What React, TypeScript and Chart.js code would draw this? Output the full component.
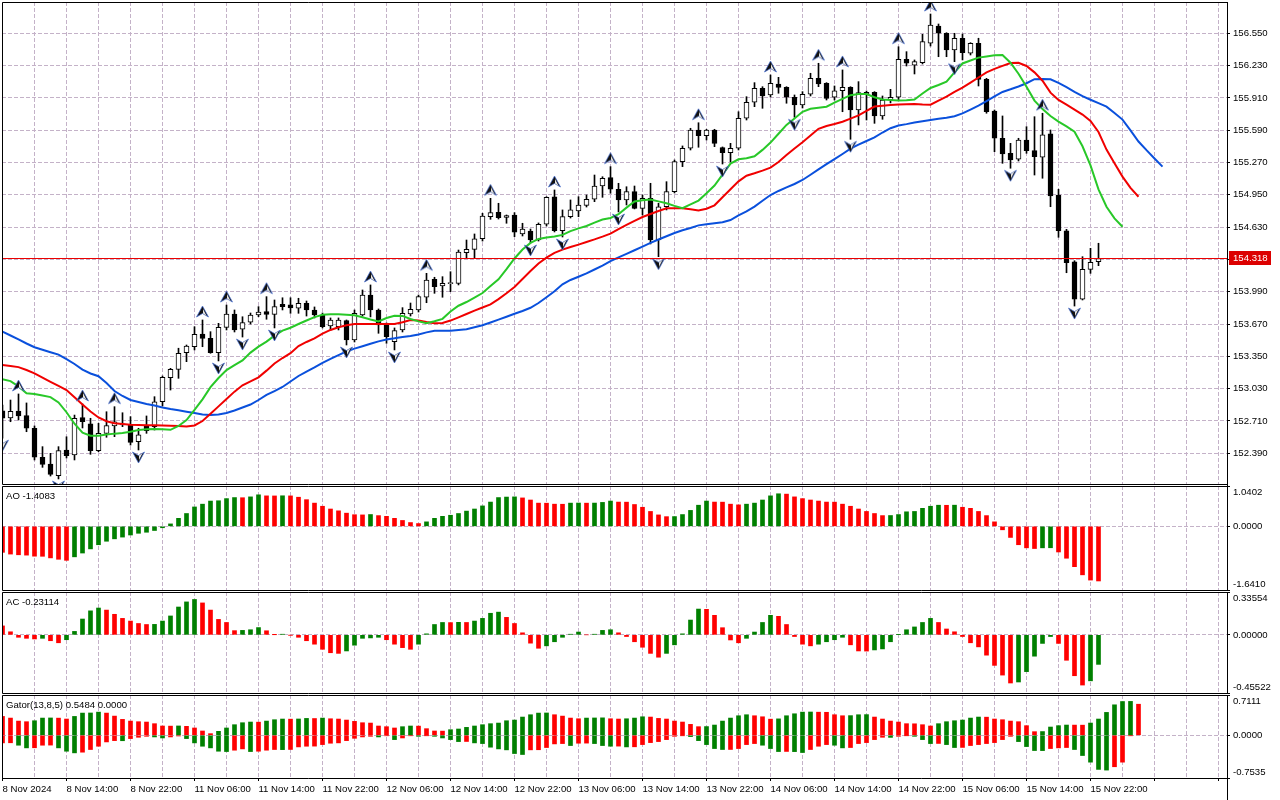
import React, { useEffect, useRef } from "react";
import { Chart, registerables } from "chart.js";

Chart.register(...registerables);

// ---------------- data ----------------
const xLabels = [
  "8 Nov 2024", "8 Nov 14:00", "8 Nov 22:00", "11 Nov 06:00", "11 Nov 14:00", "11 Nov 22:00",
  "12 Nov 06:00", "12 Nov 14:00", "12 Nov 22:00", "13 Nov 06:00", "13 Nov 14:00", "13 Nov 22:00",
  "14 Nov 06:00", "14 Nov 14:00", "14 Nov 22:00", "15 Nov 06:00", "15 Nov 14:00", "15 Nov 22:00",
];

const open = [
  152.811, 152.739, 152.808, 152.762, 152.637, 152.350, 152.283, 152.167, 152.422, 152.372,
  152.742, 152.680, 152.415, 152.587, 152.660, 152.670, 152.670, 152.504, 152.663, 152.653,
  152.900, 153.138, 153.221, 153.386, 153.445, 153.571, 153.528, 153.386, 153.637, 153.769,
  153.618, 153.687, 153.759, 153.792, 153.766, 153.865, 153.861, 153.826, 153.875, 153.809,
  153.759, 153.650, 153.643, 153.703, 153.512, 153.759, 153.957, 153.809, 153.660, 153.495,
  153.611, 153.769, 153.809, 153.935, 154.113, 154.047, 154.070, 154.073, 154.377, 154.410,
  154.515, 154.733, 154.777, 154.727, 154.750, 154.562, 154.591, 154.502, 154.658, 154.931,
  154.594, 154.733, 154.790, 154.846, 154.906, 155.037, 155.120, 155.005, 154.899, 154.981,
  154.816, 154.915, 154.502, 154.832, 154.981, 155.278, 155.411, 155.592, 155.536, 155.592,
  155.417, 155.367, 155.411, 155.708, 155.867, 156.005, 155.939, 156.048, 156.015, 155.916,
  155.840, 155.946, 156.104, 156.055, 155.916, 155.981, 156.015, 155.790, 155.946, 155.966,
  155.731, 155.889, 155.916, 156.293, 156.233, 156.259, 156.451, 156.622, 156.550, 156.385,
  156.501, 156.352, 156.451, 156.094, 155.780, 155.510, 155.361, 155.302, 155.493, 155.387,
  155.322, 155.553, 154.948, 154.594, 154.287, 153.915, 154.212, 154.287,
];
const high = [
  152.868, 152.917, 152.977, 152.888, 152.660, 152.455, 152.389, 152.455, 152.553, 152.768,
  152.878, 152.736, 152.686, 152.801, 152.851, 152.791, 152.752, 152.637, 152.759, 152.950,
  153.155, 153.231, 153.430, 153.462, 153.643, 153.710, 153.594, 153.677, 153.858, 153.809,
  153.742, 153.779, 153.842, 153.941, 153.908, 153.930, 153.930, 153.925, 153.898, 153.839,
  153.779, 153.730, 153.730, 153.710, 153.809, 154.007, 154.057, 153.819, 153.680, 153.631,
  153.832, 153.878, 153.957, 154.172, 154.133, 154.139, 154.188, 154.403, 154.502, 154.562,
  154.767, 154.915, 154.866, 154.750, 154.773, 154.668, 154.611, 154.671, 154.931, 154.998,
  154.800, 154.899, 154.931, 154.948, 155.146, 155.129, 155.229, 155.064, 155.030, 155.037,
  154.948, 155.064, 154.866, 155.080, 155.295, 155.434, 155.609, 155.664, 155.599, 155.599,
  155.424, 155.460, 155.773, 155.922, 156.061, 156.021, 156.137, 156.114, 156.021, 155.939,
  155.972, 156.154, 156.253, 156.061, 156.028, 156.187, 156.021, 156.071, 155.978, 155.972,
  155.929, 155.995, 156.417, 156.368, 156.286, 156.540, 156.741, 156.642, 156.556, 156.550,
  156.543, 156.457, 156.501, 156.104, 155.790, 155.731, 155.460, 155.510, 155.625, 155.724,
  155.758, 155.592, 155.005, 154.608, 154.297, 154.337, 154.420, 154.470,
];
const low = [
  152.540, 152.702, 152.719, 152.603, 152.323, 152.250, 152.164, 152.135, 152.343, 152.323,
  152.640, 152.379, 152.405, 152.548, 152.554, 152.653, 152.471, 152.422, 152.587, 152.620,
  152.858, 153.016, 153.132, 153.297, 153.413, 153.445, 153.380, 153.304, 153.611, 153.591,
  153.541, 153.670, 153.743, 153.717, 153.631, 153.809, 153.776, 153.776, 153.749, 153.730,
  153.631, 153.611, 153.611, 153.462, 153.492, 153.749, 153.740, 153.578, 153.479, 153.413,
  153.591, 153.749, 153.789, 153.881, 153.974, 153.935, 153.990, 154.057, 154.321, 154.321,
  154.492, 154.707, 154.710, 154.668, 154.535, 154.542, 154.473, 154.492, 154.641, 154.582,
  154.532, 154.720, 154.733, 154.829, 154.882, 154.925, 154.965, 154.780, 154.849, 154.810,
  154.750, 154.463, 154.337, 154.800, 154.968, 155.229, 155.394, 155.421, 155.493, 155.427,
  155.255, 155.275, 155.394, 155.691, 155.823, 155.807, 155.919, 155.956, 155.857, 155.718,
  155.810, 155.929, 156.021, 155.889, 155.889, 155.773, 155.500, 155.642, 155.691, 155.658,
  155.698, 155.860, 155.889, 156.226, 156.147, 156.246, 156.424, 156.318, 156.318, 156.269,
  156.286, 156.335, 156.028, 155.758, 155.377, 155.262, 155.213, 155.285, 155.361, 155.146,
  155.114, 154.832, 154.529, 154.178, 153.848, 153.908, 154.172, 154.248,
];
const close = [
  152.736, 152.805, 152.759, 152.637, 152.350, 152.280, 152.181, 152.415, 152.365, 152.736,
  152.702, 152.415, 152.587, 152.663, 152.702, 152.680, 152.498, 152.571, 152.613, 152.900,
  153.142, 153.221, 153.380, 153.452, 153.568, 153.528, 153.386, 153.637, 153.769, 153.611,
  153.683, 153.759, 153.789, 153.766, 153.842, 153.842, 153.829, 153.875, 153.809, 153.759,
  153.643, 153.710, 153.710, 153.512, 153.776, 153.957, 153.809, 153.660, 153.544, 153.604,
  153.776, 153.816, 153.941, 154.106, 154.040, 154.073, 154.080, 154.383, 154.410, 154.515,
  154.740, 154.773, 154.723, 154.743, 154.579, 154.611, 154.502, 154.658, 154.925, 154.594,
  154.733, 154.800, 154.849, 154.906, 155.037, 155.114, 155.005, 154.899, 154.981, 154.816,
  154.915, 154.502, 154.832, 154.981, 155.278, 155.411, 155.592, 155.536, 155.592, 155.460,
  155.367, 155.411, 155.708, 155.867, 156.005, 155.929, 156.055, 156.015, 155.916, 155.840,
  155.946, 156.104, 156.048, 155.906, 155.981, 156.015, 155.790, 155.962, 155.966, 155.731,
  155.889, 155.916, 156.293, 156.253, 156.269, 156.467, 156.632, 156.550, 156.385, 156.501,
  156.358, 156.451, 156.094, 155.773, 155.510, 155.354, 155.295, 155.493, 155.387, 155.328,
  155.543, 154.938, 154.594, 154.278, 153.915, 154.212, 154.281, 154.318,
];

// Alligator (already shifted forward: jaw 8, teeth 5, lips 3 bars)
const jaw = [
  153.594, 153.556, 153.517, 153.477, 153.440, 153.415, 153.391, 153.367, 153.323, 153.274,
  153.219, 153.180, 153.153, 153.086, 153.006, 152.957, 152.917, 152.897, 152.878, 152.863,
  152.843, 152.828, 152.815, 152.801, 152.788, 152.774, 152.769, 152.774, 152.788, 152.813,
  152.843, 152.872, 152.917, 152.967, 153.006, 153.046, 153.100, 153.155, 153.199, 153.240,
  153.284, 153.324, 153.361, 153.398, 153.426, 153.450, 153.474, 153.498, 153.517, 153.528,
  153.541, 153.552, 153.566, 153.587, 153.604, 153.604, 153.604, 153.611, 153.618, 153.638,
  153.658, 153.685, 153.713, 153.742, 153.771, 153.799, 153.831, 153.878, 153.935, 153.994,
  154.063, 154.106, 154.138, 154.171, 154.210, 154.249, 154.292, 154.330, 154.365, 154.401,
  154.437, 154.473, 154.507, 154.539, 154.572, 154.599, 154.621, 154.647, 154.659, 154.669,
  154.679, 154.700, 154.746, 154.785, 154.833, 154.891, 154.948, 154.988, 155.023, 155.057,
  155.097, 155.149, 155.202, 155.253, 155.303, 155.354, 155.407, 155.448, 155.483, 155.518,
  155.567, 155.610, 155.636, 155.650, 155.666, 155.679, 155.691, 155.703, 155.713, 155.729,
  155.756, 155.794, 155.834, 155.877, 155.924, 155.969, 155.995, 156.023, 156.055, 156.095,
  156.097, 156.094, 156.058, 156.016, 155.970, 155.927, 155.892, 155.858, 155.823, 155.761,
  155.695, 155.589, 155.478, 155.392, 155.310, 155.229,
];
const teeth = [
  153.264, 153.254, 153.243, 153.214, 153.181, 153.138, 153.097, 153.056, 153.016, 152.944,
  152.872, 152.803, 152.744, 152.707, 152.687, 152.680, 152.672, 152.669, 152.667, 152.666,
  152.664, 152.663, 152.659, 152.655, 152.665, 152.709, 152.782, 152.854, 152.927, 153.000,
  153.063, 153.102, 153.142, 153.208, 153.279, 153.333, 153.381, 153.452, 153.492, 153.528,
  153.575, 153.611, 153.638, 153.657, 153.670, 153.670, 153.670, 153.670, 153.670, 153.670,
  153.687, 153.710, 153.706, 153.690, 153.677, 153.681, 153.704, 153.736, 153.769, 153.802,
  153.834, 153.864, 153.916, 153.974, 154.036, 154.116, 154.195, 154.270, 154.327, 154.374,
  154.407, 154.433, 154.456, 154.482, 154.508, 154.536, 154.566, 154.611, 154.651, 154.691,
  154.730, 154.760, 154.790, 154.816, 154.816, 154.816, 154.806, 154.795, 154.812, 154.846,
  154.925, 155.005, 155.083, 155.139, 155.163, 155.189, 155.219, 155.275, 155.344, 155.409,
  155.471, 155.537, 155.604, 155.632, 155.652, 155.674, 155.705, 155.736, 155.781, 155.824,
  155.833, 155.840, 155.844, 155.847, 155.849, 155.844, 155.843, 155.882, 155.922, 155.969,
  156.012, 156.062, 156.112, 156.163, 156.198, 156.227, 156.256, 156.258, 156.226, 156.163,
  156.080, 155.962, 155.890, 155.843, 155.794, 155.745, 155.681, 155.572, 155.398, 155.263,
  155.130, 155.019, 154.931,
];
const lips = [
  153.122, 153.104, 153.052, 152.984, 152.977, 152.961, 152.946, 152.893, 152.796, 152.682,
  152.593, 152.564, 152.563, 152.575, 152.584, 152.590, 152.603, 152.619, 152.628, 152.629,
  152.628, 152.622, 152.660, 152.719, 152.819, 152.924, 153.044, 153.135, 153.214, 153.262,
  153.310, 153.387, 153.446, 153.495, 153.555, 153.604, 153.633, 153.670, 153.705, 153.738,
  153.761, 153.767, 153.766, 153.762, 153.756, 153.737, 153.715, 153.695, 153.729, 153.751,
  153.750, 153.720, 153.696, 153.677, 153.697, 153.721, 153.794, 153.851, 153.888, 153.932,
  153.977, 154.046, 154.112, 154.213, 154.319, 154.408, 154.473, 154.513, 154.527, 154.536,
  154.553, 154.590, 154.617, 154.641, 154.675, 154.705, 154.720, 154.758, 154.823, 154.884,
  154.896, 154.904, 154.885, 154.866, 154.840, 154.818, 154.855, 154.893, 154.965, 155.042,
  155.149, 155.259, 155.302, 155.313, 155.331, 155.395, 155.467, 155.555, 155.642, 155.706,
  155.772, 155.802, 155.813, 155.823, 155.864, 155.901, 155.937, 155.949, 155.949, 155.917,
  155.894, 155.889, 155.883, 155.886, 155.894, 155.954, 156.008, 156.038, 156.071, 156.163,
  156.251, 156.280, 156.309, 156.321, 156.333, 156.335, 156.258, 156.149, 156.021, 155.883,
  155.799, 155.730, 155.675, 155.628, 155.575, 155.431, 155.241, 155.004, 154.832, 154.717,
  154.634,
];

const fractalUp = [2, 10, 14, 25, 28, 33, 46, 53, 61, 69, 76, 87, 96, 102, 105, 112, 116, 130];
const fractalDown = [0, 7, 17, 27, 30, 34, 43, 49, 66, 70, 77, 82, 90, 99, 106, 119, 126, 134];

const priceTicks = [
  156.55, 156.23, 155.91, 155.59, 155.27, 154.95, 154.63, 154.31,
  153.99, 153.67, 153.35, 153.03, 152.71, 152.39,
];
const priceRange = [152.085, 156.86];

const ao = [
  -0.670, -0.715, -0.733, -0.742, -0.769, -0.772, -0.813, -0.849, -0.876, -0.786,
  -0.688, -0.581, -0.474, -0.384, -0.322, -0.277, -0.223, -0.179, -0.152, -0.107,
  -0.036, 0.063, 0.206, 0.331, 0.500, 0.572, 0.652, 0.660, 0.715, 0.742,
  0.738, 0.760, 0.813, 0.786, 0.784, 0.788, 0.785, 0.751, 0.688, 0.599,
  0.518, 0.447, 0.400, 0.340, 0.300, 0.295, 0.305, 0.277, 0.259, 0.206,
  0.152, 0.098, 0.072, 0.116, 0.206, 0.259, 0.286, 0.331, 0.393, 0.447,
  0.527, 0.626, 0.742, 0.755, 0.760, 0.733, 0.679, 0.599, 0.597, 0.572,
  0.570, 0.599, 0.601, 0.598, 0.600, 0.617, 0.652, 0.626, 0.624, 0.563,
  0.492, 0.384, 0.295, 0.250, 0.252, 0.304, 0.411, 0.545, 0.652, 0.626,
  0.624, 0.572, 0.554, 0.572, 0.599, 0.679, 0.786, 0.840, 0.831, 0.760,
  0.715, 0.679, 0.652, 0.626, 0.624, 0.572, 0.518, 0.447, 0.384, 0.331,
  0.277, 0.279, 0.304, 0.375, 0.384, 0.465, 0.518, 0.545, 0.543, 0.546,
  0.492, 0.465, 0.384, 0.277, 0.116, -0.089, -0.286, -0.474, -0.554, -0.572,
  -0.554, -0.552, -0.661, -0.822, -1.040, -1.250, -1.385, -1.4083,
];
const aoTicks = [1.0402, 0, -1.641];

const ac = [
  0.070, 0.024, -0.019, -0.027, -0.032, -0.027, -0.046, -0.062, -0.038, 0.027,
  0.124, 0.188, 0.210, 0.194, 0.161, 0.129, 0.108, 0.089, 0.081, 0.082,
  0.108, 0.148, 0.218, 0.258, 0.277, 0.250, 0.194, 0.121, 0.097, 0.033,
  0.035, 0.040, 0.057, 0.032, 0.001, 0.005, -0.002, -0.019, -0.046, -0.073,
  -0.113, -0.140, -0.145, -0.126, -0.081, -0.027, -0.024, -0.019, -0.038, -0.073,
  -0.100, -0.113, -0.073, 0.008, 0.081, 0.097, 0.096, 0.098, 0.097, 0.108,
  0.129, 0.169, 0.178, 0.137, 0.089, 0.016, -0.065, -0.105, -0.086, -0.054,
  -0.019, 0.005, 0.022, 0.000, 0.005, 0.035, 0.040, 0.016, -0.013, -0.054,
  -0.097, -0.145, -0.175, -0.145, -0.078, 0.008, 0.116, 0.202, 0.200, 0.153,
  0.056, -0.040, -0.062, -0.027, 0.022, 0.097, 0.153, 0.145, 0.081, -0.013,
  -0.073, -0.086, -0.073, -0.054, -0.038, -0.019, -0.078, -0.126, -0.127, -0.118,
  -0.110, -0.054, 0.002, 0.040, 0.062, 0.097, 0.129, 0.097, 0.046, 0.024,
  -0.013, -0.062, -0.094, -0.159, -0.239, -0.315, -0.377, -0.369, -0.288, -0.167,
  -0.067, -0.013, -0.067, -0.199, -0.320, -0.393, -0.360, -0.23114,
];
const acTicks = [0.33554, 0, -0.45522];

const gatorParams = [13, 8, 5];
const gatorUp = [
  0.333, 0.304, 0.251, 0.240, 0.257, 0.304, 0.306, 0.303, 0.287, 0.333,
  0.392, 0.394, 0.409, 0.392, 0.339, 0.281, 0.251, 0.240, 0.234, 0.205,
  0.164, 0.162, 0.165, 0.158, 0.129, 0.076, 0.029, 0.070, 0.129, 0.187,
  0.222, 0.234, 0.232, 0.251, 0.275, 0.287, 0.285, 0.288, 0.298, 0.296,
  0.304, 0.292, 0.287, 0.269, 0.246, 0.222, 0.216, 0.164, 0.152, 0.129,
  0.152, 0.164, 0.162, 0.117, 0.076, 0.074, 0.099, 0.111, 0.140, 0.164,
  0.187, 0.205, 0.216, 0.257, 0.269, 0.322, 0.363, 0.392, 0.394, 0.363,
  0.339, 0.304, 0.292, 0.304, 0.306, 0.308, 0.292, 0.287, 0.292, 0.304,
  0.327, 0.322, 0.298, 0.287, 0.251, 0.234, 0.193, 0.152, 0.154, 0.181,
  0.251, 0.304, 0.345, 0.363, 0.345, 0.327, 0.285, 0.290, 0.345, 0.380,
  0.409, 0.411, 0.408, 0.406, 0.363, 0.345, 0.347, 0.363, 0.365, 0.322,
  0.287, 0.251, 0.234, 0.205, 0.203, 0.187, 0.164, 0.205, 0.240, 0.257,
  0.269, 0.304, 0.322, 0.320, 0.287, 0.275, 0.251, 0.240, 0.170, 0.064,
  0.066, 0.146, 0.170, 0.181, 0.180, 0.179, 0.216, 0.287, 0.404, 0.538,
  0.596, 0.598, 0.5484,
];
const gatorDown = [
  -0.134, -0.132, -0.175, -0.222, -0.220, -0.175, -0.173, -0.222, -0.281, -0.310,
  -0.298, -0.251, -0.193, -0.117, -0.094, -0.096, -0.058, -0.035, -0.018, -0.029,
  -0.047, -0.029, -0.012, -0.058, -0.134, -0.193, -0.222, -0.281, -0.287, -0.263,
  -0.240, -0.287, -0.281, -0.263, -0.251, -0.253, -0.250, -0.205, -0.193, -0.191,
  -0.164, -0.140, -0.134, -0.094, -0.053, -0.029, -0.018, -0.029, -0.006, -0.076,
  -0.047, -0.006, -0.018, -0.003, -0.018, -0.047, -0.076, -0.111, -0.109, -0.134,
  -0.146, -0.210, -0.240, -0.257, -0.322, -0.339, -0.257, -0.255, -0.216, -0.152,
  -0.146, -0.181, -0.140, -0.138, -0.146, -0.181, -0.193, -0.191, -0.205, -0.203,
  -0.164, -0.129, -0.111, -0.076, -0.018, -0.003, -0.023, -0.094, -0.164, -0.234,
  -0.251, -0.250, -0.234, -0.164, -0.146, -0.175, -0.234, -0.287, -0.285, -0.288,
  -0.304, -0.251, -0.193, -0.164, -0.175, -0.222, -0.216, -0.146, -0.129, -0.076,
  -0.035, -0.037, -0.018, -0.002, -0.018, -0.076, -0.146, -0.144, -0.164, -0.216,
  -0.214, -0.181, -0.164, -0.146, -0.129, -0.076, -0.018, -0.111, -0.199, -0.269,
  -0.270, -0.234, -0.222, -0.216, -0.251, -0.357, -0.474, -0.602, -0.614, -0.555,
  -0.474, -0.005,
];
const gatorTicks = [0.7111, 0, -0.7535];

// ---------------- style ----------------
const FONT = "'Liberation Sans', Arial, sans-serif";
const FS = 9.6;
const GRID = "rgb(196,178,200)";
const GREEN = "#008000";
const RED = "#ff0000";
const BLUE_LINE = "rgb(10,80,220)";
const RED_LINE = "rgb(240,0,0)";
const LIME_LINE = "rgb(40,200,40)";
const AXIS_W = 53;
const BAR_W = 8; // px per bar
const X_MIN = -0.5 / BAR_W;
const X_MAX = X_MIN + 1225 / BAR_W;
const gridBars = Array.from({ length: 39 }, (_, k) => k * 4);

function xAxis(withLabels: boolean): any {
  return {
    type: "linear",
    min: X_MIN,
    max: X_MAX,
    offset: false,
    afterBuildTicks: (s: any) => {
      s.ticks = gridBars.map((v) => ({ value: v }));
    },
    afterFit: (s: any) => {
      s.height = withLabels ? 22 : 0;
      s.paddingLeft = 0;
      s.paddingRight = 0;
    },
    grid: {
      color: GRID,
      lineWidth: 1,
      offset: false,
      drawTicks: withLabels,
      tickLength: 3,
      tickWidth: 1,
      tickBorderDash: [],
      tickColor: (c: any) => (c.tick && c.tick.value % 8 === 0 ? "#000" : "rgba(0,0,0,0)"),
    },
    border: { display: false, dash: [4, 2] },
    ticks: {
      display: withLabels,
      autoSkip: false,
      maxRotation: 0,
      minRotation: 0,
      align: "start",
      padding: 2.5,
      color: "#000",
      font: { family: FONT, size: FS },
      callback: (v: any) => (v % 8 === 0 && xLabels[v / 8] ? xLabels[v / 8] : ""),
    },
  };
}

const framePlugin = {
  id: "frame",
  afterDraw(chart: any) {
    const { ctx, chartArea: a } = chart;
    const l = Math.round(a.left) + 0.5;
    const t = Math.round(a.top) + 0.5;
    const r = Math.round(a.right) + 0.5;
    const b = Math.round(a.bottom) + 0.5;
    ctx.save();
    ctx.setLineDash([]);
    ctx.strokeStyle = "#000";
    ctx.lineWidth = 1;
    ctx.beginPath();
    ctx.moveTo(r, t);
    ctx.lineTo(l, t);
    ctx.lineTo(l, b);
    ctx.lineTo(r, b);
    ctx.stroke();
    ctx.beginPath();
    ctx.moveTo(r, a.top);
    ctx.lineTo(r, chart.height);
    ctx.stroke();
    ctx.restore();
  },
};

const panelPlugin = {
  id: "panel",
  afterDraw(chart: any, _args: any, opts: any) {
    if (!opts || !opts.title) return;
    const { ctx, chartArea: a, scales } = chart;
    ctx.save();
    ctx.font = `${FS}px ${FONT}`;
    ctx.fillStyle = "#000";
    ctx.textBaseline = "middle";
    ctx.textAlign = "left";
    ctx.fillText(opts.title, a.left + 4, a.top + 10);
    for (const v of opts.ticks) {
      let y = scales.y.getPixelForValue(v);
      y = Math.min(Math.max(y, a.top + 6), a.bottom - 5.5);
      ctx.fillText(v.toFixed(opts.digits), a.right + 6, y);
    }
    ctx.restore();
  },
};

const pricePlugin = {
  id: "price",
  afterDatasetsDraw(chart: any, _args: any, opts: any) {
    const { ctx, chartArea: a, scales } = chart;
    const y = Math.round(scales.y.getPixelForValue(opts.value)) - 0.5;
    ctx.save();
    ctx.setLineDash([]);
    ctx.globalAlpha = 1;
    ctx.strokeStyle = "rgb(235,0,0)";
    ctx.lineWidth = 1;
    ctx.beginPath();
    ctx.moveTo(a.left, y);
    ctx.lineTo(a.right, y);
    ctx.stroke();
    ctx.restore();
  },
  afterDraw(chart: any, _args: any, opts: any) {
    const { ctx, chartArea: a, scales } = chart;
    const y = Math.round(scales.y.getPixelForValue(opts.value)) - 1;
    ctx.save();
    ctx.fillStyle = "rgb(220,0,0)";
    ctx.fillRect(a.right + 2, y - 7, 42, 14);
    ctx.fillStyle = "#fff";
    ctx.font = `${FS}px ${FONT}`;
    ctx.textBaseline = "middle";
    ctx.textAlign = "left";
    ctx.fillText(opts.value.toFixed(3), a.right + 6, y + 0.5);
    ctx.restore();
  },
};

function makeArrow(up: boolean): HTMLCanvasElement {
  const c = document.createElement("canvas");
  c.width = 15;
  c.height = 36;
  const g = c.getContext("2d") as CanvasRenderingContext2D;
  const cy = up ? 10 : 25;
  g.save();
  if (!up) {
    g.translate(0, 2 * cy);
    g.scale(1, -1);
  }
  const top = cy - 6;
  const bot = cy + 5;
  const cx = 7.5;
  g.beginPath();
  g.moveTo(cx, top);
  g.lineTo(cx + 6, bot);
  g.lineTo(cx, bot - 3.5);
  g.lineTo(cx - 6, bot);
  g.closePath();
  g.fillStyle = "#111";
  g.fill();
  g.strokeStyle = "rgba(70,110,210,0.8)";
  g.lineWidth = 0.9;
  g.stroke();
  g.beginPath();
  g.moveTo(cx + 0.5, top + 3);
  g.lineTo(cx + 4, bot - 1.2);
  g.lineTo(cx + 0.5, bot - 3.6);
  g.closePath();
  g.fillStyle = "#e8e8e8";
  g.fill();
  g.restore();
  return c;
}

function barColors(vals: number[], useAbs: boolean) {
  return vals.map((v, i) => {
    if (i === 0) return RED;
    const a = useAbs ? Math.abs(v) : v;
    const p = useAbs ? Math.abs(vals[i - 1]) : vals[i - 1];
    return a > p ? GREEN : RED;
  });
}

function subYAxis(ticks: number[]): any {
  const lo = ticks[ticks.length - 1];
  const hi = ticks[0];
  return {
    position: "right",
    min: lo,
    max: hi,
    afterBuildTicks: (s: any) => {
      s.ticks = ticks.map((v) => ({ value: v }));
    },
    afterFit: (s: any) => {
      s.width = AXIS_W;
      s.paddingTop = 0;
      s.paddingBottom = 0;
    },
    grid: {
      color: (c: any) => (c.tick && c.tick.value === 0 ? GRID : "rgba(0,0,0,0)"),
      drawTicks: true,
      tickLength: 3,
      tickColor: "#000",
      tickBorderDash: [],
      tickWidth: 1,
    },
    border: { display: true, color: "#000", width: 1, dash: [4, 2] },
    ticks: { display: false },
  };
}

function histConfig(datasets: any[], ticks: number[], digits: number, title: string, padding: any, withLabels: boolean): any {
  return {
    type: "bar",
    data: { datasets },
    plugins: [framePlugin, panelPlugin],
    options: {
      responsive: false,
      animation: false,
      events: [],
      layout: { padding, autoPadding: false },
      plugins: {
        legend: { display: false },
        tooltip: { enabled: false },
        panel: { title, ticks, digits },
      },
      scales: { x: xAxis(withLabels), y: subYAxis(ticks) },
    },
  };
}

function histDataset(vals: number[], colors: string[]): any {
  return {
    type: "bar",
    data: vals.map((v, i) => ({ x: i, y: v })),
    backgroundColor: colors,
    borderWidth: 0,
    barThickness: 4,
    grouped: false,
  };
}

export default function App() {
  const mainRef = useRef<HTMLCanvasElement>(null);
  const aoRef = useRef<HTMLCanvasElement>(null);
  const acRef = useRef<HTMLCanvasElement>(null);
  const gatorRef = useRef<HTMLCanvasElement>(null);

  useEffect(() => {
    const charts: Chart[] = [];
    const upImg = makeArrow(true);
    const downImg = makeArrow(false);
    const lastClose = close[close.length - 1];
    const line = (arr: number[], color: string, order: number) => ({
      type: "line",
      data: arr.map((v, i) => ({ x: i, y: v })),
      borderColor: color,
      borderWidth: 2,
      pointRadius: 0,
      tension: 0,
      order,
    });

    const mainCfg: any = {
      type: "bar",
      data: {
        datasets: [
          {
            type: "line",
            data: fractalUp.map((i) => ({ x: i, y: high[i] })),
            showLine: false,
            pointStyle: upImg,
            pointRadius: 3,
            order: 0,
          },
          {
            type: "line",
            data: fractalDown.map((i) => ({ x: i, y: low[i] })),
            showLine: false,
            pointStyle: downImg,
            pointRadius: 3,
            order: 0,
          },
          line(lips, LIME_LINE, 1),
          line(teeth, RED_LINE, 2),
          line(jaw, BLUE_LINE, 3),
          {
            type: "bar",
            data: open.map((o, i) => ({ x: i, y: [o, close[i]] })),
            backgroundColor: open.map((o, i) => (close[i] >= o ? "#fff" : "#000")),
            borderColor: "#000",
            borderWidth: 1,
            borderSkipped: false,
            barThickness: 5,
            minBarLength: 1,
            grouped: false,
            order: 5,
          },
          {
            type: "bar",
            data: high.map((h, i) => ({ x: i, y: [low[i], h] })),
            backgroundColor: "#000",
            borderWidth: 0,
            barThickness: 1,
            grouped: false,
            order: 6,
          },
        ],
      },
      plugins: [pricePlugin, framePlugin],
      options: {
        responsive: false,
        animation: false,
        events: [],
        layout: { padding: { left: 2, top: 2, right: 0, bottom: 2 }, autoPadding: false },
        plugins: {
          legend: { display: false },
          tooltip: { enabled: false },
          price: { value: lastClose },
        },
        scales: {
          x: xAxis(false),
          y: {
            position: "right",
            min: priceRange[0],
            max: priceRange[1],
            afterBuildTicks: (s: any) => {
              s.ticks = priceTicks.map((v) => ({ value: v }));
            },
            afterFit: (s: any) => {
              s.width = AXIS_W;
              s.paddingTop = 0;
              s.paddingBottom = 0;
            },
            grid: {
              color: GRID,
              drawTicks: true,
              tickLength: 3,
              tickColor: "#000",
              tickBorderDash: [],
              tickWidth: 1,
            },
            border: { display: true, color: "#000", width: 1, dash: [4, 2] },
            ticks: {
              color: "#000",
              padding: 3,
              font: { family: FONT, size: FS },
              callback: (v: any) => (Math.abs(v - lastClose) < 0.03 ? "" : Number(v).toFixed(3)),
            },
          },
        },
      },
    };
    charts.push(new Chart(mainRef.current as HTMLCanvasElement, mainCfg));

    charts.push(
      new Chart(
        aoRef.current as HTMLCanvasElement,
        histConfig(
          [histDataset(ao, barColors(ao, false))],
          aoTicks,
          4,
          `AO ${ao[ao.length - 1].toFixed(4)}`,
          { left: 2, top: 1, right: 0, bottom: 1 },
          false
        )
      )
    );
    charts.push(
      new Chart(
        acRef.current as HTMLCanvasElement,
        histConfig(
          [histDataset(ac, barColors(ac, false))],
          acTicks,
          5,
          `AC ${ac[ac.length - 1].toFixed(5)}`,
          { left: 2, top: 1, right: 0, bottom: 1 },
          false
        )
      )
    );
    const lastDown = gatorDown[gatorUp.length - 1] ?? 0;
    charts.push(
      new Chart(
        gatorRef.current as HTMLCanvasElement,
        histConfig(
          [histDataset(gatorUp, barColors(gatorUp, true)), histDataset(gatorDown, barColors(gatorDown, true))],
          gatorTicks,
          4,
          `Gator(${gatorParams.join(",")}) ${gatorUp[gatorUp.length - 1].toFixed(4)} ${Math.abs(lastDown).toFixed(4)}`,
          { left: 2, top: 1, right: 0, bottom: 0 },
          true
        )
      )
    );

    return () => {
      charts.forEach((c) => c.destroy());
    };
  }, []);

  const cv = (top: number, h: number): React.CSSProperties => ({
    position: "absolute",
    left: 0,
    top,
    width: 1280,
    height: h,
  });

  return (
    <div style={{ position: "absolute", left: 0, top: 0, width: 1280, height: 800, background: "#fff", overflow: "hidden" }}>
      <canvas ref={mainRef} width={1280} height={486} style={cv(0, 486)} />
      <canvas ref={aoRef} width={1280} height={106} style={cv(485, 106)} />
      <canvas ref={acRef} width={1280} height={103} style={cv(591, 103)} />
      <canvas ref={gatorRef} width={1280} height={106} style={cv(694, 106)} />
    </div>
  );
}
